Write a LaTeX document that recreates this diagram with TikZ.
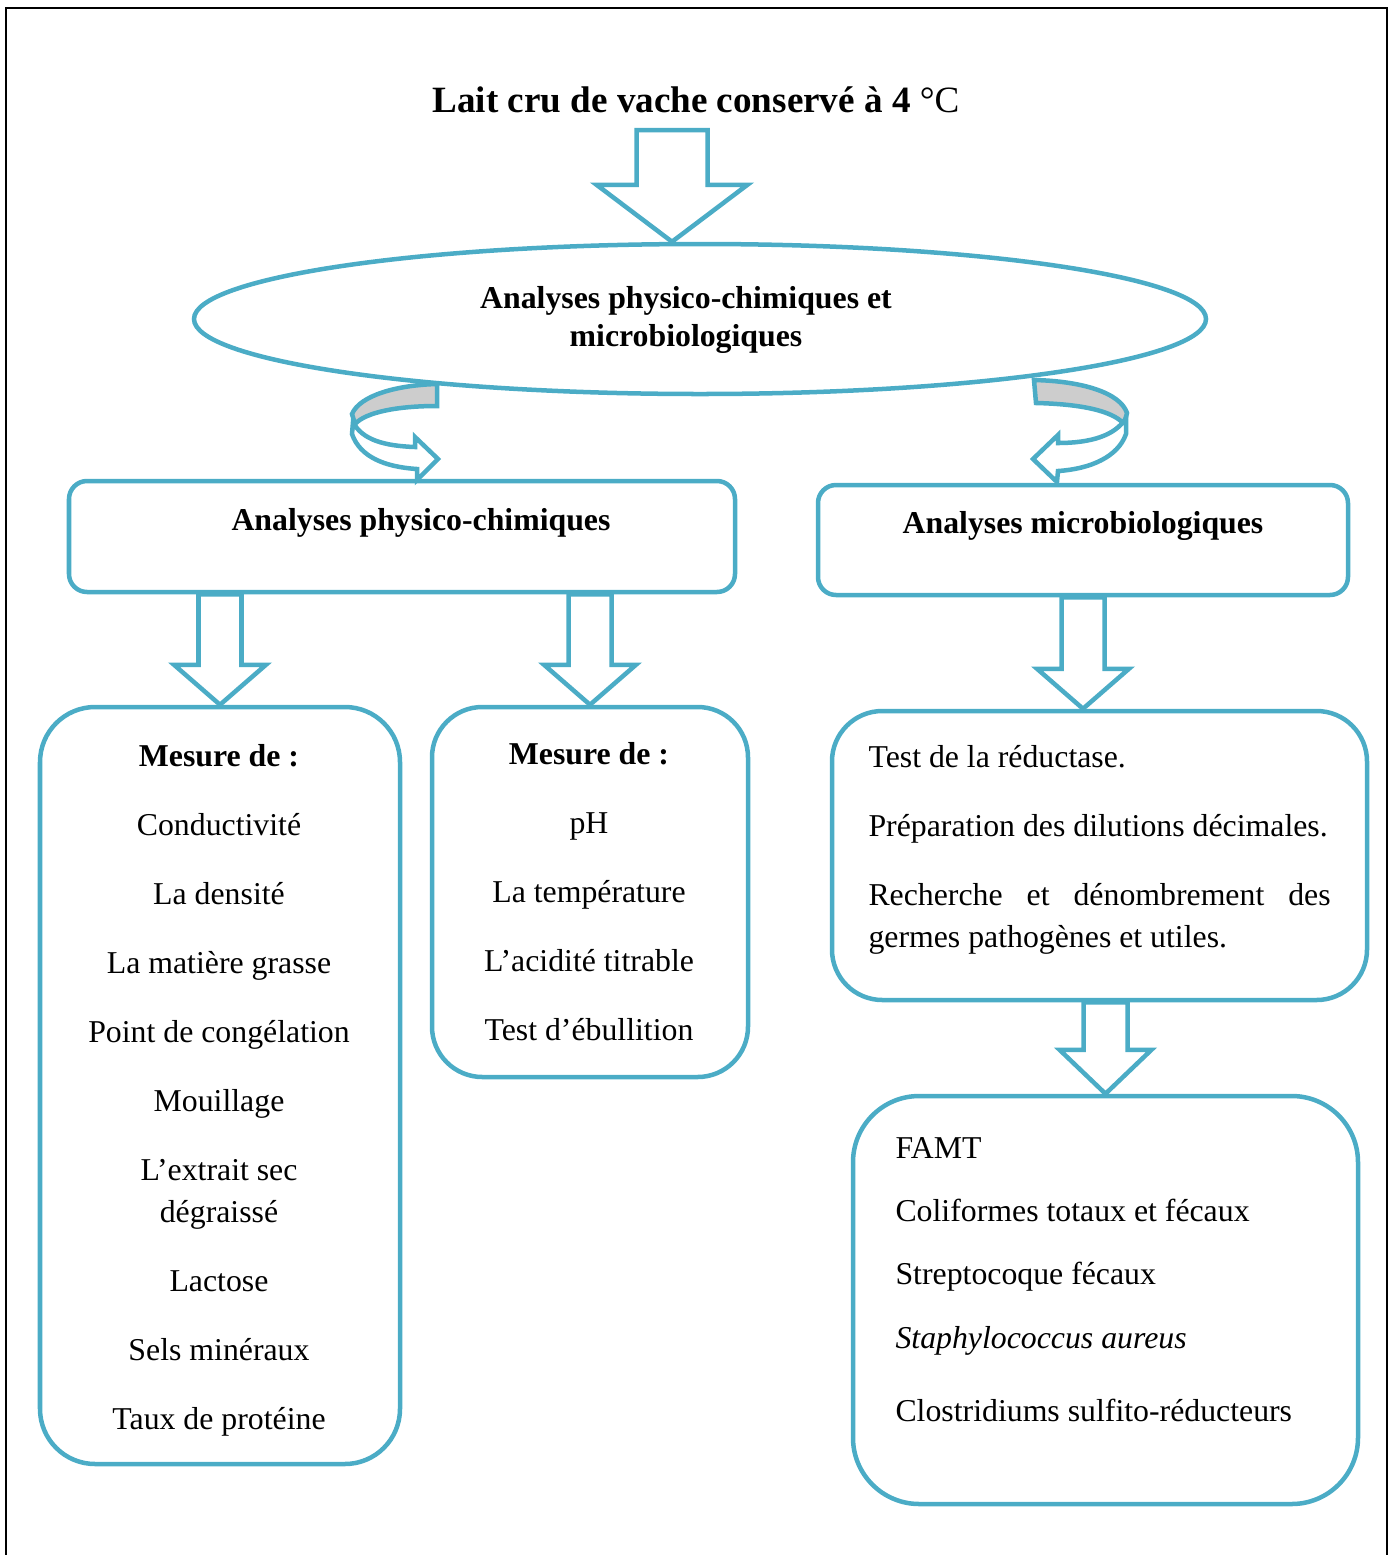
\documentclass[tikz,border=0pt]{standalone}
\usepackage{fontspec}
\setmainfont{Liberation Serif}
\usepackage{tikz}
\usetikzlibrary{calc}
\usetikzlibrary{fit}
\usetikzlibrary{positioning}
\usetikzlibrary{shapes.geometric}

\definecolor{aqua}{HTML}{4BACC6}
\definecolor{ribbon}{HTML}{CDCDCD}

\newcommand{\pxu}{0.3774pt}
\newcommand{\blockdown}[5]{%
  \draw [bigarrow] ($(#2 |- #1)+(-#3,0)$) -- ($(#2)+(-#3,-#5)$) -- ($(#2)+(-#4,-#5)$) -- (#2)
    -- ($(#2)+(#4,-#5)$) -- ($(#2)+(#3,-#5)$) -- ($(#2 |- #1)+(#3,0)$) -- cycle;}

\begin{document}
\begin{tikzpicture}[x=0.3774pt,y=-0.3774pt,
    outline/.style={draw=aqua,line width=1.7pt},
    panel/.style={outline,rectangle,inner sep=0pt},
    bigarrow/.style={outline,fill=white},
    txt/.style={inner sep=0pt,font=\fontsize{12}{15.85}\selectfont}]

  \useasboundingbox (0,0) rectangle (1394,1555);
  \draw [line width=1.1pt] (6,1560) -- (6,8) -- (1387,8) -- (1387,1560);

  \node [txt,font=\fontsize{14}{16}\selectfont\bfseries] (title) at (696,100) {Lait cru de vache conservé à 4 {\mdseries °C}};

  \node [outline,ellipse,inner sep=0pt,minimum width=1012*\pxu,minimum height=150*\pxu] (study) at (700,319) {};
  \node [txt,font=\fontsize{12}{14}\selectfont\bfseries,align=center] (studylab) at (686,320) {Analyses physico-chimiques et\\microbiologiques};

  \node [panel,rounded corners=6.8pt,fit={(69,481) (735,592)}] (phys) {};
  \node [txt,font=\fontsize{12}{14}\selectfont\bfseries] (physlab) at (421,523) {Analyses physico-chimiques};

  \node [panel,rounded corners=6.8pt,fit={(818,485) (1348,595)}] (micro) {};
  \node [txt,font=\fontsize{12}{14}\selectfont\bfseries] (microlab) at (1083,526) {Analyses microbiologiques};

  \node [panel,rounded corners=20.8pt,fit={(40,707) (400,1464)}] (physA) {};
  \node [panel,rounded corners=19pt,fit={(432,707) (748,1077)}] (physB) {};
  \node [panel,rounded corners=19pt,fit={(832,711) (1367,1000)}] (microA) {};
  \node [panel,rounded corners=25pt,fit={(853,1096) (1358,1504)}] (microB) {};

  \node [txt,align=center,anchor=north] (physAlist) at ($(physA.north)+(-1,39)$) {%
    \textbf{Mesure de :}\\[10.2pt]
    Conductivité\\[10.2pt]
    La densité\\[10.2pt]
    La matière grasse\\[10.2pt]
    Point de congélation\\[10.2pt]
    Mouillage\\[10.2pt]
    L’extrait sec\\
    dégraissé\\[10.2pt]
    Lactose\\[10.2pt]
    Sels minéraux\\[10.2pt]
    Taux de protéine};

  \node [txt,align=center,anchor=north] (physBlist) at ($(physB.north)+(-1,37)$) {%
    \textbf{Mesure de :}\\[10.2pt]
    pH\\[10.2pt]
    La température\\[10.2pt]
    L’acidité titrable\\[10.2pt]
    Test d’ébullition};

  \node [txt,align=left,anchor=north west] (microAlist) at (868,745) {%
    Test de la réductase.\\[10.2pt]
    Préparation des dilutions décimales.\\[10.2pt]
    \makebox[174.4pt][s]{Recherche et dénombrement des}\\
    germes pathogènes et utiles.};

  \node [txt,align=left,anchor=north west] (microBlist) at (895,1137) {%
    FAMT\\[8pt]
    Coliformes totaux et fécaux\\[8pt]
    Streptocoque fécaux\\[8pt]
    \textit{Staphylococcus aureus}\\[11.7pt]
    Clostridiums sulfito-réducteurs};

  \coordinate (feed) at (672,130);
  \coordinate (dropin) at (feed |- study.north);
  \coordinate (gatein) at (micro.south |- microA.north);

  \blockdown{feed}{dropin}{35.5}{75.5}{57}
  \blockdown{phys.south}{physA.north}{21.5}{46}{40}
  \blockdown{phys.south}{physB.north}{21.5}{46}{40}
  \blockdown{micro.south}{gatein}{21.5}{46}{40}
  \blockdown{microA.south}{microB.north}{22}{46}{44}

  \draw [outline,fill=ribbon] (437,384) -- (437,406) .. controls (398,406) and (366,412) .. (355,424)
    -- (352,414) .. controls (360,395) and (398,385) .. (437,384) -- cycle;
  \draw [outline,fill=white] (353,422) -- (352,434) .. controls (360,457) and (385,467) .. (417,469)
    -- (417,480) -- (438,459) -- (415,437) -- (415,447) .. controls (385,446) and (362,440) .. (353,422) -- cycle;

  \draw [outline,fill=ribbon] (1034,380) -- (1036,403) .. controls (1078,404) and (1112,410) .. (1124,424)
    -- (1127,413) .. controls (1120,392) and (1080,381) .. (1034,380) -- cycle;
  \draw [outline,fill=white] (1126,418) -- (1126,434) .. controls (1118,457) and (1090,469) .. (1058,471)
    -- (1057,482) -- (1033,459) -- (1058,435) -- (1058,443) .. controls (1090,443) and (1115,436) .. (1126,418) -- cycle;

\end{tikzpicture}
\end{document}
